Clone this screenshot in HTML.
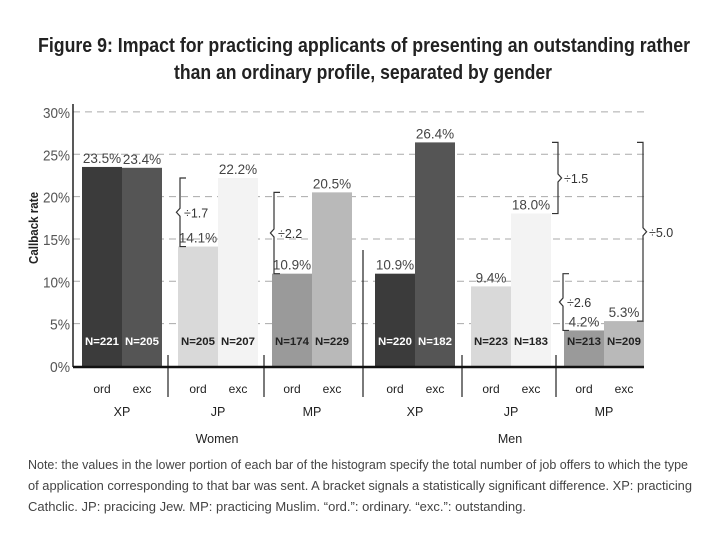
<!DOCTYPE html>
<html><head><meta charset="utf-8"><style>
body{margin:0;background:#fff;width:720px;height:540px;overflow:hidden}
svg text{font-family:"Liberation Sans",sans-serif}
</style></head><body>
<svg id="c" width="720" height="540" viewBox="0 0 720 540">
<text x="38" y="52" font-size="20" font-weight="bold" fill="#222" textLength="652" lengthAdjust="spacingAndGlyphs">Figure 9: Impact for practicing applicants of presenting an outstanding rather</text>
<text x="174" y="79" font-size="20" font-weight="bold" fill="#222" textLength="378" lengthAdjust="spacingAndGlyphs">than an ordinary profile, separated by gender</text>
<g id="grid"></g>
<g id="bars"></g>
<g id="axes"></g>
<g id="brackets" fill="none" stroke="#333" stroke-width="1.2"></g>
<text transform="translate(38,228) rotate(-90)" text-anchor="middle" font-size="13" font-weight="bold" fill="#222" textLength="72" lengthAdjust="spacingAndGlyphs">Callback rate</text>
<g font-size="12.5" fill="#444">
<text x="28" y="469" textLength="660" lengthAdjust="spacingAndGlyphs">Note: the values in the lower portion of each bar of the histogram specify the total number of job offers to which the type</text>
<text x="28" y="490" textLength="664" lengthAdjust="spacingAndGlyphs">of application corresponding to that bar was sent. A bracket signals a statistically significant difference. XP: practicing</text>
<text x="28" y="511" textLength="498" lengthAdjust="spacingAndGlyphs">Cathclic. JP: pracicing Jew. MP: practicing Muslim. “ord.”: ordinary. “exc.”: outstanding.</text>
</g>
</svg>
<script>
const groups = ["XP","JP","MP","XP","JP","MP"];
const genders = ["Women","Men"];
const ordValues = [23.5,14.1,10.9,10.9,9.4,4.2];
const excValues = [23.4,22.2,20.5,26.4,18.0,5.3];
const ordN = [221,205,174,220,223,213];
const excN = [205,207,229,182,183,209];
const yTicks = [0,5,10,15,20,25,30];

const NS="http://www.w3.org/2000/svg";
const y0=366, pxPer=8.47, x0=73, xEnd=644;
const y=v=>y0-v*pxPer;
const groupX=[82,178,272,375,471,564];
const bw=40;
const ordColors=["#3b3b3b","#d9d9d9","#9a9a9a"];
const excColors=["#555555","#f3f3f3","#b9b9b9"];
const nTextColors=["#fff","#222","#222"];
function mk(tag,attrs,parent){const e=document.createElementNS(NS,tag);for(const k in attrs)e.setAttribute(k,attrs[k]);parent.appendChild(e);return e;}
const grid=document.getElementById('grid'),bars=document.getElementById('bars'),axes=document.getElementById('axes'),br=document.getElementById('brackets');
yTicks.forEach(t=>{
  if(t>0){const l=mk('line',{x1:x0,x2:xEnd,y1:y(t),y2:y(t),stroke:'#aaa','stroke-dasharray':'7,5','stroke-width':1},grid);
  
  }
  const tx=mk('text',{x:x0-3,y:y(t)+6,'text-anchor':'end','font-size':15,fill:'#555',textLength:t>=10?27:20,lengthAdjust:'spacingAndGlyphs'},axes);
  tx.textContent=t+'%';
  
  
});
function bar(x,v,n,col,tc,name){
  const r=mk('rect',{x:x,y:y(v),width:bw,height:y0-y(v),fill:col},bars);
  
  
  const lt=mk('text',{x:x+bw/2,y:y(v)-4,'text-anchor':'middle','font-size':13.5,fill:'#444'},bars);
  lt.textContent=v.toFixed(1)+'%';
  
  
  const nt=mk('text',{x:x+bw/2,y:345,'text-anchor':'middle','font-size':11,'font-weight':'bold',fill:tc,textLength:34,lengthAdjust:'spacingAndGlyphs'},bars);
  nt.textContent='N='+n;
  
  
}
groups.forEach((g,i)=>{
  const c=i%3,x=groupX[i];
  bar(x,ordValues[i],ordN[i],ordColors[c],nTextColors[c],'bar-'+genders[Math.floor(i/3)].toLowerCase()+'-'+g.toLowerCase()+'-ord');
  bar(x+bw,excValues[i],excN[i],excColors[c],nTextColors[c],'bar-'+genders[Math.floor(i/3)].toLowerCase()+'-'+g.toLowerCase()+'-exc');
  [['ord',x+bw/2],['exc',x+bw*1.5]].forEach(([s,xx])=>{
    const t=mk('text',{x:xx,y:393,'text-anchor':'middle','font-size':12,fill:'#222'},axes);
    t.textContent=s;
    
    
  });
  const gt=mk('text',{x:x+bw,y:416,'text-anchor':'middle','font-size':12.5,fill:'#222'},axes);
  gt.textContent=g;
  
  
});
[168,264,363,462,556].forEach((sx,i)=>{
  const l=mk('line',{x1:sx,x2:sx,y1:i==2?250:355,y2:397,stroke:'#222','stroke-width':1.2},axes);
  
  
});
genders.forEach((gd,i)=>{
  const t=mk('text',{x:i?510:217,y:443,'text-anchor':'middle','font-size':12.5,fill:'#222'},axes);
  t.textContent=gd;
  
  
});
const yl=mk('line',{x1:x0,x2:x0,y1:104,y2:y0+1,stroke:'#222','stroke-width':1.5},axes);


const xl=mk('line',{x1:x0,x2:xEnd,y1:y0+1,y2:y0+1,stroke:'#111','stroke-width':2.5},axes);


function bracket(x,ya,yb,dir,label,name){
  const ym=(ya+yb)/2,d=dir*6;
  const p=mk('path',{d:`M${x+d},${ya} L${x},${ya} L${x},${ym-4} L${x-d*0.6},${ym} L${x},${ym+4} L${x},${yb} L${x+d},${yb}`},br);
  
  
  const t=mk('text',{x:dir>0?x+4:x+6,y:ym+5,'font-size':12.5,fill:'#333',stroke:'none'},br);
  t.textContent=label;
  
  
}
bracket(180,y(excValues[1]),y(ordValues[1]),1,'÷1.7','bracket-women-jp');
bracket(274,y(excValues[2]),y(ordValues[2]),1,'÷2.2','bracket-women-mp');
bracket(558,y(excValues[3]),y(excValues[4]),-1,'÷1.5','bracket-men-jp');
bracket(563,y(ordValues[3]),y(ordValues[5]),1,'÷2.6','bracket-men-mp');
bracket(643,y(excValues[3]),y(excValues[5]),-1,'÷5.0','bracket-men-xp-mp');
</script>
</body></html>
